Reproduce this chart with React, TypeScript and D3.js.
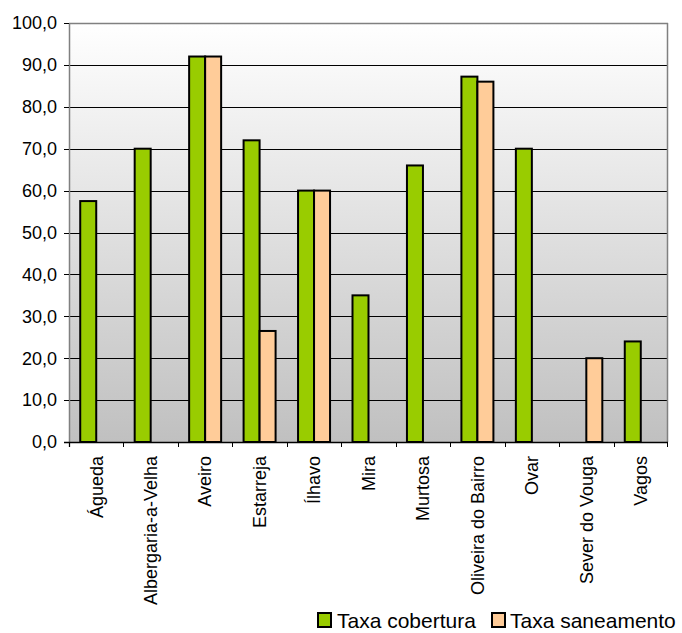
import React from "react";
import * as d3 from "d3";

const categories = ["Águeda","Albergaria-a-Velha","Aveiro","Estarreja","Ílhavo","Mira","Murtosa","Oliveira do Bairro","Ovar","Sever do Vouga","Vagos"];
const cobertura: (number|null)[] = [57.5,70,92,72,60,35,66,87.2,70,null,24];
const saneamento: (number|null)[] = [null,null,92,26.5,60,null,null,86,null,20,null];
const yTicks = [0,10,20,30,40,50,60,70,80,90,100];
const seriesNames = ["Taxa cobertura","Taxa saneamento"];
const colors = ["#99cc00","#ffcc99"];

export default function App() {
  const W = 682, H = 633;
  const left = 69, right = 668, top = 23, bottom = 442;
  const x = d3.scaleBand<string>().domain(categories).range([left, right]);
  const y = d3.scaleLinear().domain([0, 100]).range([bottom, top]);
  const bw = 16;
  const font = "Liberation Sans, Arial, sans-serif";
  const series = [cobertura, saneamento];
  return (
    <svg width={W} height={H} style={{position:"absolute", left:0, top:0}} fontFamily={font}>
      <defs>
        <linearGradient id="bg" x1="0" y1="0" x2="0" y2="1">
          <stop offset="0" stopColor="#ffffff" />
          <stop offset="1" stopColor="#c0c0c0" />
        </linearGradient>
      </defs>
      <rect x={left} y={top} width={right-left} height={bottom-top} fill="url(#bg)" />
      {yTicks.filter(t => t > 0 && t < 100).map(t => (
        <line key={t} x1={left} x2={right} y1={Math.round(y(t))+0.5} y2={Math.round(y(t))+0.5} stroke="#000" strokeWidth={1} />
      ))}
      <line x1={left} x2={right} y1={top+0.5} y2={top+0.5} stroke="#808080" strokeWidth={1.5} />
      <line x1={right-0.5} x2={right-0.5} y1={top} y2={bottom} stroke="#808080" strokeWidth={1.5} />
      {series.map((s, si) => s.map((v, i) => v == null ? null : (
        <rect key={si+"-"+i}
          x={(x(categories[i]) as number) + x.bandwidth()/2 - bw + si*bw}
          y={y(v)} width={bw} height={bottom - y(v)}
          fill={colors[si]} stroke="#000" strokeWidth={2} />
      )))}
      <line x1={left+0.5} x2={left+0.5} y1={top} y2={bottom+5} stroke="#808080" strokeWidth={1.5} />
      <line x1={left-5} x2={right} y1={bottom+0.5} y2={bottom+0.5} stroke="#000" strokeWidth={1.5} />
      {yTicks.map(t => (
        <g key={t}>
          <line x1={left-5} x2={left} y1={Math.round(y(t))+0.5} y2={Math.round(y(t))+0.5} stroke="#000" />
          <text x={left-12} y={y(t)} dy="0.35em" textAnchor="end" fontSize={18} fill="#000">{t.toFixed(1).replace(".", ",")}</text>
        </g>
      ))}
      {categories.map((c, i) => (
        <line key={"t"+i} x1={Math.round(x(c) as number)+0.5} x2={Math.round(x(c) as number)+0.5} y1={bottom} y2={bottom+5} stroke="#000" />
      ))}
      <line x1={right-0.5} x2={right-0.5} y1={bottom} y2={bottom+5} stroke="#000" />
      {categories.map(c => {
        const cx = (x(c) as number) + x.bandwidth()/2;
        return (
          <text key={c} transform={`translate(${cx},${bottom+14}) rotate(-90)`} dy="0.35em" textAnchor="end" fontSize={18} fill="#000">{c}</text>
        );
      })}
      <g transform="translate(318,613)">
        <rect x={0} y={0} width={13} height={14} fill={colors[0]} stroke="#000" strokeWidth={2} />
        <text x={19} y={8} dy="0.35em" fontSize={21} fill="#000">{seriesNames[0]}</text>
        <rect x={174} y={0} width={13} height={14} fill={colors[1]} stroke="#000" strokeWidth={2} />
        <text x={192} y={8} dy="0.35em" fontSize={21} fill="#000">{seriesNames[1]}</text>
      </g>
    </svg>
  );
}
